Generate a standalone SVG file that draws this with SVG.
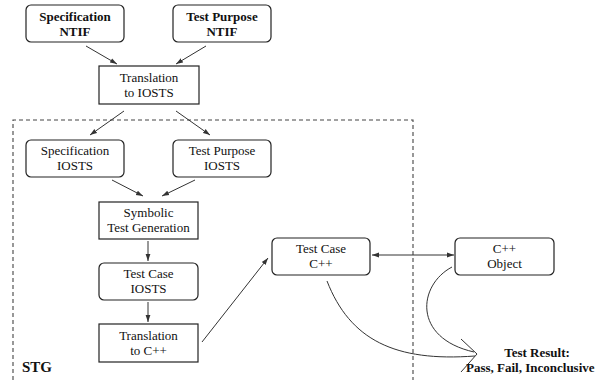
<svg xmlns="http://www.w3.org/2000/svg" width="598" height="380" viewBox="0 0 598 380">
<defs>
<marker id="ah" markerWidth="8" markerHeight="6" refX="7" refY="3" orient="auto" markerUnits="userSpaceOnUse">
<path d="M0,0.6 L7,3 L0,5.4 Z" fill="#333"/>
</marker>
<marker id="ahs" markerWidth="8" markerHeight="6" refX="1" refY="3" orient="auto" markerUnits="userSpaceOnUse">
<path d="M8,0.6 L1,3 L8,5.4 Z" fill="#333"/>
</marker>
</defs>
<style>
.box{fill:#fff;stroke:#222;stroke-width:1.2}
.t{font-family:"Liberation Serif","Times New Roman",serif;font-size:13px;fill:#111;text-anchor:middle}
.b{font-weight:bold}
.c{fill:none;stroke:#333;stroke-width:1}
.d{fill:none;stroke:#444;stroke-width:1.1;stroke-dasharray:4,3}
</style>
<rect width="598" height="380" fill="#fff"/>
<path class="d" d="M13,380 V120 H413 V380"/>
<g id="connectors">
<line class="c" x1="86" y1="46" x2="117" y2="64" marker-end="url(#ah)"/>
<line class="c" x1="206" y1="46" x2="176" y2="64" marker-end="url(#ah)"/>
<line class="c" x1="124" y1="111" x2="90" y2="135" marker-end="url(#ah)"/>
<line class="c" x1="176" y1="111" x2="210" y2="135" marker-end="url(#ah)"/>
<line class="c" x1="112" y1="180" x2="143" y2="196" marker-end="url(#ah)"/>
<line class="c" x1="195" y1="180" x2="162" y2="196" marker-end="url(#ah)"/>
<line class="c" x1="148" y1="241" x2="148" y2="261" marker-end="url(#ah)"/>
<line class="c" x1="148" y1="302" x2="148" y2="322" marker-end="url(#ah)"/>
<line class="c" x1="202" y1="342" x2="268" y2="258" marker-end="url(#ah)"/>
<line class="c" x1="372" y1="255" x2="454" y2="255" marker-start="url(#ahs)" marker-end="url(#ah)"/>
<path class="c" d="M327,281 C350,340 395,362 475,356"/>
<path class="c" d="M452,267 C418,285 412,338 474,352"/>
<path class="c" d="M461,339 L477,354 L461,372"/>
</g>
<g id="spec-ntif"><rect class="box" x="26" y="5" width="98" height="37" rx="5"/><text class="t b" x="75" y="20.5">Specification</text><text class="t b" x="75" y="35.5">NTIF</text></g>
<g id="tp-ntif"><rect class="box" x="173" y="5" width="98" height="37" rx="5"/><text class="t b" x="222" y="20.5">Test Purpose</text><text class="t b" x="222" y="35.5">NTIF</text></g>
<g id="trans-iosts"><rect class="box" x="99" y="66" width="100" height="38"/><text class="t" x="149" y="82">Translation</text><text class="t" x="149" y="96.5">to IOSTS</text></g>
<g id="spec-iosts"><rect class="box" x="26" y="140" width="98" height="37" rx="5"/><text class="t" x="75" y="155">Specification</text><text class="t" x="75" y="169.5">IOSTS</text></g>
<g id="tp-iosts"><rect class="box" x="173" y="140" width="98" height="37" rx="5"/><text class="t" x="222" y="155">Test Purpose</text><text class="t" x="222" y="169.5">IOSTS</text></g>
<g id="symbolic"><rect class="box" x="99" y="202" width="99" height="37"/><text class="t" x="148.5" y="217">Symbolic</text><text class="t" x="148.5" y="231.5">Test Generation</text></g>
<g id="tc-iosts"><rect class="box" x="99" y="263" width="99" height="37" rx="5"/><text class="t" x="148.5" y="278">Test Case</text><text class="t" x="148.5" y="292.5">IOSTS</text></g>
<g id="trans-cpp"><rect class="box" x="99" y="324" width="99" height="38"/><text class="t" x="148.5" y="340">Translation</text><text class="t" x="148.5" y="354.5">to C++</text></g>
<g id="tc-cpp"><rect class="box" x="272" y="238" width="98" height="37" rx="5"/><text class="t" x="321" y="253">Test Case</text><text class="t" x="321" y="267.5">C++</text></g>
<g id="cpp-obj"><rect class="box" x="455" y="238" width="99" height="37" rx="5"/><text class="t" x="504.5" y="253">C++</text><text class="t" x="504.5" y="267.5">Object</text></g>
<g id="result"><text class="t b" x="537" y="357">Test Result:</text><text class="t b" x="466" y="372" style="text-anchor:start">Pass, Fail, Inconclusive</text></g>
<g id="stg"><text class="t b" x="22" y="372" style="text-anchor:start;font-size:15px">STG</text></g>
</svg>
